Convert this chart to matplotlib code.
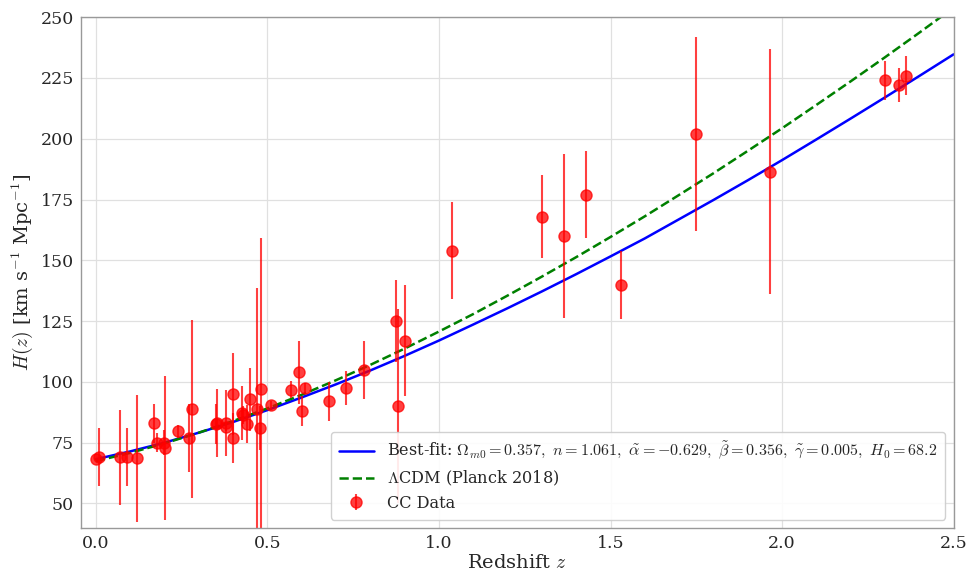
import matplotlib
matplotlib.use("Agg")
import matplotlib.pyplot as plt
import numpy as np

# Cosmic chronometer / H(z) data: redshift, H(z), 1-sigma error
z_data = [0.0, 0.01, 0.07, 0.09, 0.12, 0.17, 0.179, 0.199, 0.2, 0.24, 0.27, 0.28,
          0.35, 0.352, 0.38, 0.3802, 0.4, 0.4004, 0.4247, 0.43, 0.44, 0.4497,
          0.47, 0.4783, 0.48, 0.51, 0.57, 0.593, 0.6, 0.61, 0.68, 0.73, 0.781,
          0.875, 0.88, 0.9, 1.037, 1.3, 1.363, 1.43, 1.53, 1.75, 1.965,
          2.3, 2.34, 2.36]
H_data = [68.2, 69.0, 69.0, 69.0, 68.6, 83.0, 75.0, 75.0, 72.9, 79.7, 77.0, 88.8,
          82.7, 83.0, 81.5, 83.0, 95.0, 77.0, 87.1, 86.5, 82.6, 92.8,
          89.0, 80.9, 97.0, 90.4, 96.8, 104.0, 87.9, 97.3, 92.0, 97.3, 105.0,
          125.0, 90.0, 117.0, 154.0, 168.0, 160.0, 177.0, 140.0, 202.0, 186.5,
          224.0, 222.0, 226.0]
H_err = [0.5, 12.0, 19.6, 12.0, 26.2, 8.0, 4.0, 5.0, 29.6, 2.7, 14.0, 36.6,
         8.4, 14.0, 1.9, 13.5, 17.0, 10.2, 11.2, 3.7, 7.8, 12.9,
         49.6, 9.0, 62.0, 1.9, 3.4, 13.0, 6.1, 2.1, 8.0, 7.0, 12.0,
         17.0, 40.0, 23.0, 20.0, 17.0, 33.6, 18.0, 14.0, 40.0, 50.4,
         8.0, 7.0, 8.0]

# model curves
z_curve = [0.0, 0.1, 0.2, 0.3, 0.4, 0.5, 0.6, 0.7, 0.8, 0.9, 1.0, 1.1, 1.2,
           1.3, 1.4, 1.5, 1.6, 1.7, 1.8, 1.9, 2.0, 2.1, 2.2, 2.3, 2.4, 2.5]
H_bestfit = [68.2, 71.4, 75.0, 79.1, 83.5, 88.4, 93.6, 99.0, 104.7, 110.7, 117.0,
             123.6, 130.3, 137.2, 144.3, 151.6, 159.0, 166.9, 174.8, 182.9, 191.2,
             199.7, 208.3, 217.0, 225.8, 234.7]
H_lcdm = [67.4, 70.8, 74.7, 79.1, 83.9, 89.1, 94.7, 100.7, 107.0, 113.7, 120.7,
          127.9, 135.5, 143.3, 151.3, 159.6, 168.1, 176.9, 185.8, 195.0, 204.3,
          213.9, 223.6, 233.5, 243.6, 253.9]

plt.style.use("seaborn-v0_8-whitegrid")
plt.rcParams["font.family"] = ["DejaVu Serif"]
plt.rcParams["mathtext.fontset"] = "cm"

fig = plt.figure(figsize=(9.74, 5.73), dpi=100)
ax = fig.add_axes([0.083, 0.079, 0.896, 0.891])

ax.plot(z_curve, H_bestfit, color="blue", lw=1.8,
        label=r"Best-fit: $\Omega_{m0}=0.357,\ n=1.061,\ \tilde{\alpha}=-0.629,\ "
              r"\tilde{\beta}=0.356,\ \tilde{\gamma}=0.005,\ H_0=68.2$")
ax.plot(z_curve, H_lcdm, color="green", lw=1.8, ls="--",
        label=r"$\Lambda$CDM (Planck 2018)")
ax.errorbar(z_data, H_data, yerr=H_err, fmt="o", color="red", ecolor="red",
            markersize=8, elinewidth=1.5, alpha=0.75, capsize=0, label="CC Data")

ax.set_xlim(-0.044, 2.5)
ax.set_ylim(40, 250)
ax.set_xticks([0.0, 0.5, 1.0, 1.5, 2.0, 2.5])
ax.set_yticks([50, 75, 100, 125, 150, 175, 200, 225, 250])
ax.tick_params(labelsize=12.5, length=0, pad=5)
ax.set_xlabel(r"Redshift $z$", fontsize=14, labelpad=2)
ax.set_ylabel(r"$H(z)$ [km s$^{-1}$ Mpc$^{-1}$]", fontsize=14)
for s in ax.spines.values():
    s.set_color("#999999")
    s.set_linewidth(1.0)
ax.grid(color="#e0e0e0", lw=0.9)

ax.legend(loc="lower right", fontsize=11.6, frameon=True, framealpha=0.9,
          edgecolor="#cccccc", handlelength=2.2, borderpad=0.5,
          labelspacing=0.4)

plt.savefig("out.png", dpi=100)
